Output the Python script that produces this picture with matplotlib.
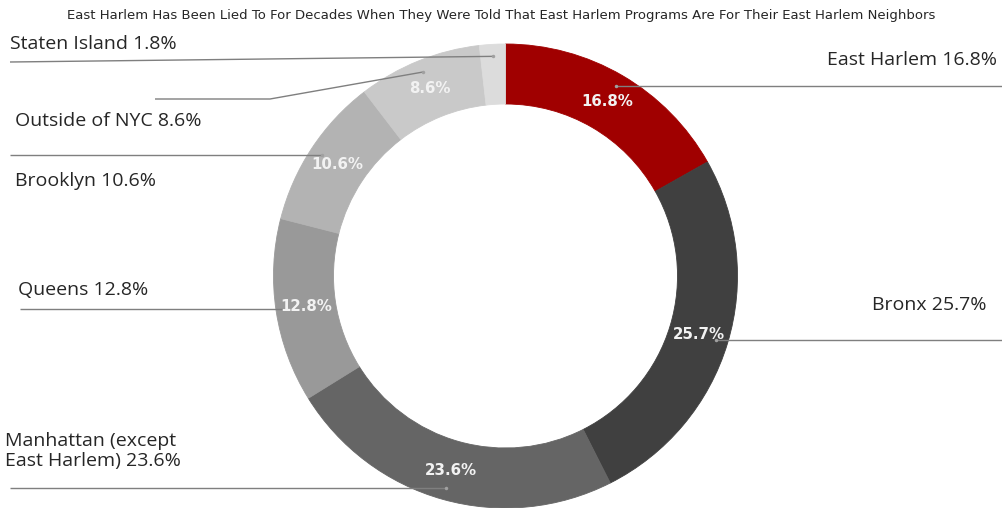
import numpy as np
import matplotlib
matplotlib.use("Agg")
import matplotlib.pyplot as plt

# ---- data ----
categories = ["East Harlem", "Bronx", "Manhattan (except\nEast Harlem)", "Queens",
              "Brooklyn", "Outside of NYC", "Staten Island"]
values = [16.8, 25.7, 23.6, 12.8, 10.6, 8.6, 1.8]
colors = ["#a00000", "#404040", "#656565", "#999999", "#b3b3b3", "#c9c9c9", "#dcdcdc"]
title = ("East Harlem Has Been Lied To For Decades When They Were Told That "
         "East Harlem Programs Are For Their East Harlem Neighbors")

# ---- layout (pixel-like coordinates, y up) ----
W, H = 1002, 508
cx, cy, R, ring = 505.5, 232.0, 232.0, 60.0
label_r = R - ring / 2
dot_r = 220.0
# outer label text positions (x, y, ha) and leader line end points
text_pos = [(997, 448, "right"), (987, 203, "right"), (5, 57, "left"),
            (18, 218, "left"), (15, 327, "left"), (15, 387, "left"), (10, 464, "left")]
line_end = [(1002, None), (1002, None), (10, None), (20, None),
            (10, None), (155, None), (10, 446)]
elbow = {5: (270, 409)}

fig = plt.figure(figsize=(W / 100, H / 100), dpi=100)
ax = fig.add_axes([0, 0, 1, 1])
ax.set_xlim(0, W)
ax.set_ylim(0, H)
ax.set_aspect("equal")
ax.axis("off")

wedges, _ = ax.pie(values, colors=colors, startangle=90, counterclock=False,
                   radius=R, center=(cx, cy),
                   wedgeprops=dict(width=ring, linewidth=0.6))
for w, c in zip(wedges, colors):
    w.set_edgecolor(c)
ax.set_xlim(0, W)
ax.set_ylim(0, H)

total = sum(values)
cum = np.cumsum([0] + values[:-1])
for i, (cat, v) in enumerate(zip(categories, values)):
    mid = 90 - 360 * (cum[i] + v / 2) / total
    th = np.deg2rad(mid)
    if v >= 5:
        ax.text(cx + label_r * np.cos(th), cy + label_r * np.sin(th), f"{v}%",
                ha="center", va="center", color="#f2f2f2", fontsize=10.8,
                fontweight="bold", family="DejaVu Sans")
    dx, dy = cx + dot_r * np.cos(th), cy + dot_r * np.sin(th)
    ex, ey = line_end[i]
    if ey is None:
        ey = dy
    xs, ys = [dx], [dy]
    if i in elbow:
        xs.append(elbow[i][0]); ys.append(elbow[i][1])
        ey = elbow[i][1]
    xs.append(ex); ys.append(ey)
    ax.plot(xs, ys, color="#7f7f7f", lw=1.0, solid_capstyle="butt")
    ax.plot([dx], [dy], "o", ms=2.5, color="#a0a0a0", mec="none")
    tx, ty, ha = text_pos[i]
    ax.text(tx, ty, f"{cat} {v}%", ha=ha, va="center", fontsize=14,
            color="#262626", family=["Open Sans", "DejaVu Sans"], linespacing=1.2)

fig.text(0.5, 1 - 16 / H, title, ha="center", va="center", fontsize=9.5,
         color="#262626", family="DejaVu Sans")

fig.savefig("out.png", dpi=100)
